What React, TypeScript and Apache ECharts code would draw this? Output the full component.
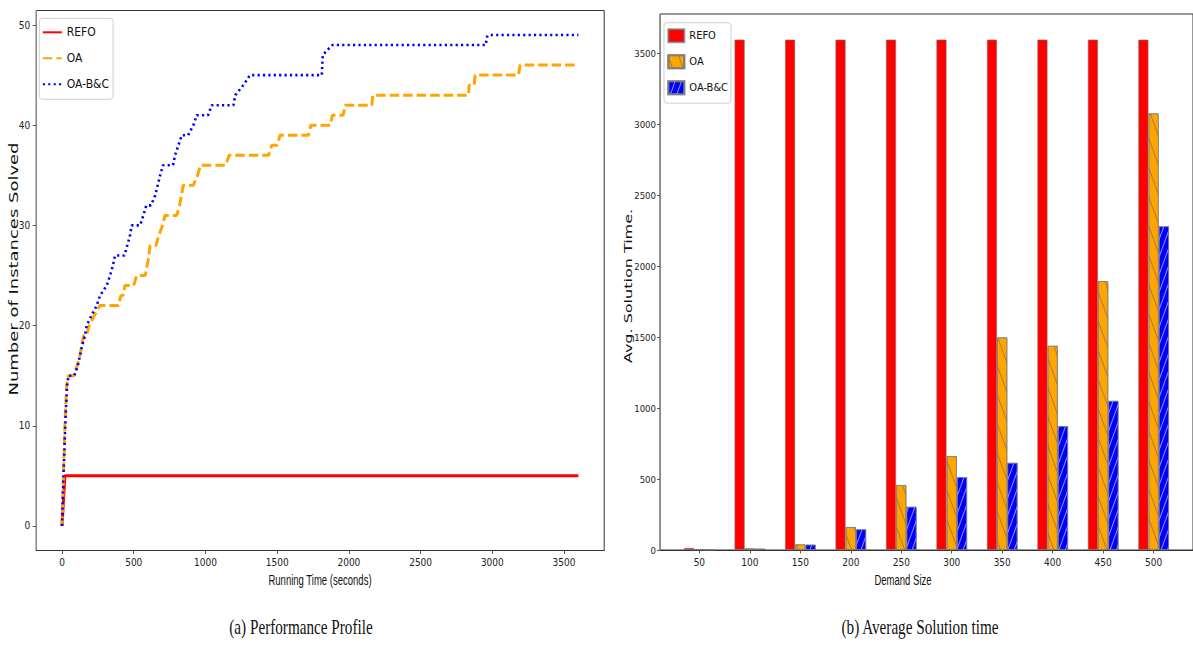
import React, { useEffect, useRef } from 'react';
import * as echarts from 'echarts';

// ---------- data: (a) performance profile ----------
const TIME_TICKS = [0, 500, 1000, 1500, 2000, 2500, 3000, 3500];
const COUNT_TICKS = [0, 10, 20, 30, 40, 50];

const REFO_PROFILE = [[0, 0], [20, 5], [3600, 5]];

const OA_PROFILE = [
  [0, 0], [10, 5], [20, 10], [32, 14], [44, 15], [85, 15], [105, 16], [125, 17],
  [150, 19], [170, 19], [190, 20], [225, 21], [265, 22], [393, 22], [410, 23],
  [425, 23], [439, 24], [500, 24], [520, 25], [580, 25], [600, 26.5], [614, 28],
  [655, 28], [675, 29], [700, 30], [718, 31], [800, 31], [820, 32], [845, 34],
  [915, 34], [945, 35], [965, 36], [1140, 36], [1165, 37], [1440, 37], [1462, 38],
  [1500, 38], [1520, 39], [1718, 39], [1735, 40], [1870, 40], [1885, 41],
  [1960, 41], [1974, 42], [2160, 42], [2167, 43], [2834, 43], [2838, 44],
  [2873, 44], [2880, 45], [3182, 45], [3194, 46], [3600, 46],
];

const OABC_PROFILE = [
  [0, 0], [10, 5], [25, 11], [35, 14], [45, 15], [85, 15], [110, 16], [140, 18],
  [160, 19], [172, 20], [205, 21], [242, 22], [265, 23], [312, 24], [335, 25],
  [355, 26], [370, 27], [435, 27], [455, 28], [474, 29], [486, 30], [544, 30],
  [567, 31], [588, 32], [620, 32], [650, 33], [684, 35], [704, 36], [774, 36],
  [788, 37], [835, 39], [879, 39], [916, 40], [939, 41], [1018, 41], [1044, 42],
  [1195, 42], [1208, 43], [1264, 44], [1311, 45], [1811, 45], [1818, 47],
  [1850, 47.5], [1885, 48], [2955, 48], [2962, 48.8], [2973, 49], [3600, 49],
];

// ---------- data: (b) average solution time ----------
const DEMAND_SIZES = ['50', '100', '150', '200', '250', '300', '350', '400', '450', '500'];
const REFO_TIME = [15, 3600, 3600, 3600, 3600, 3600, 3600, 3600, 3600, 3600];
const OA_TIME = [5, 12, 40, 162, 458, 662, 1499, 1440, 1896, 3079];
const OABC_TIME = [3, 10, 38, 146, 305, 514, 615, 874, 1052, 2283];
const SOLUTION_TICKS = [0, 500, 1000, 1500, 2000, 2500, 3000, 3500];

const TICK_FONT = "'Liberation Sans Narrow', 'DejaVu Sans Condensed', 'Liberation Sans', sans-serif";
const RED = '#ff0000';
const ORANGE = '#ffa500';
const BLUE = '#0000ff';

function axisTitle(text: string, x: number, y: number, rotate: boolean, size: number, family: string, squeeze: number) {
  return {
    type: 'text',
    x,
    y,
    rotation: rotate ? Math.PI / 2 : 0,
    scaleX: rotate ? 1 : squeeze,
    scaleY: rotate ? squeeze : 1,
    style: {
      text,
      fontSize: size,
      fontFamily: family,
      fill: '#111',
      align: 'center',
      verticalAlign: 'middle',
      textAlign: 'center',
      textVerticalAlign: 'middle',
    },
  };
}

const plain = (v: number) => String(Math.round(v));

function leftOption(): any {
  const lineSeries = (name: string, data: number[][], color: string, width: number, dash: any) => ({
    name,
    type: 'line',
    data,
    showSymbol: false,
    symbol: 'none',
    lineStyle: { color, width, type: dash, cap: 'butt' },
    itemStyle: { color },
  });
  return {
    animation: false,
    grid: { left: 36.2, right: 15.8, top: 10.5, bottom: 94.5, show: true, borderColor: '#333', borderWidth: 1 },
    xAxis: {
      type: 'value',
      min: -180,
      max: 3780,
      splitLine: { show: false },
      axisLine: { show: true, onZero: false, lineStyle: { color: '#333' } },
      axisTick: { show: true, length: 3.5, customValues: TIME_TICKS, lineStyle: { color: '#555' } },
      axisLabel: { customValues: TIME_TICKS, formatter: plain, margin: 7, fontSize: 10, fontFamily: TICK_FONT, color: '#222' },
    },
    yAxis: {
      type: 'value',
      min: -2.45,
      max: 51.45,
      splitLine: { show: false },
      axisLine: { show: true, onZero: false, lineStyle: { color: '#888' } },
      axisTick: { show: true, length: 3.5, customValues: COUNT_TICKS, lineStyle: { color: '#555' } },
      axisLabel: { customValues: COUNT_TICKS, formatter: plain, margin: 6, fontSize: 10, fontFamily: TICK_FONT, color: '#222' },
    },
    legend: {
      orient: 'vertical',
      left: 39.3,
      top: 18.3,
      padding: [6, 4, 7, 2.5],
      itemGap: 10,
      itemWidth: 19,
      itemHeight: 12,
      itemStyle: { opacity: 0 },
      backgroundColor: 'rgba(255,255,255,0.85)',
      borderColor: '#d0d0d0',
      borderWidth: 1,
      borderRadius: 3,
      textStyle: { fontSize: 12, lineHeight: 16, fontFamily: TICK_FONT, color: '#111' },
      data: ['REFO', 'OA', 'OA-B&C'],
    },
    series: [
      lineSeries('REFO', REFO_PROFILE, RED, 3, 'solid'),
      lineSeries('OA', OA_PROFILE, ORANGE, 3, [9.5, 4]),
      lineSeries('OA-B&C', OABC_PROFILE, BLUE, 2.6, [2.2, 3.2]),
    ],
    graphic: [
      axisTitle('Number of Instances Solved', 14, 269, true, 18, "'DejaVu Sans', sans-serif", 0.7),
      axisTitle('Running Time (seconds)', 320, 580, false, 14, "'Liberation Sans', sans-serif", 0.68),
      axisTitle('(a) Performance Profile', 301, 627, false, 20, "'Liberation Serif', serif", 0.76),
    ],
  };
}

function rightOption(): any {
  const toPoints = (vals: number[]) => vals.map((v, i) => [i, v]);
  const barSeries = (name: string, vals: number[], color: string, decal: any) => ({
    name,
    type: 'bar',
    data: toPoints(vals),
    barWidth: 10.25,
    barGap: '0%',
    itemStyle: {
      color,
      borderColor: 'rgba(120,120,120,0.75)',
      borderWidth: 0.8,
      decal,
    },
  });
  const idx = DEMAND_SIZES.map((_, i) => i);
  return {
    animation: false,
    grid: { left: 40, right: -8.4, top: 14, bottom: 95, show: true, borderColor: '#333', borderWidth: 1 },
    xAxis: {
      type: 'value',
      min: -0.78,
      max: 9.78,
      splitLine: { show: false },
      axisLine: { show: true, onZero: false, lineStyle: { color: '#333' } },
      axisTick: { show: true, length: 3.5, customValues: idx, lineStyle: { color: '#555' } },
      axisLabel: {
        customValues: idx,
        formatter: (v: number) => DEMAND_SIZES[Math.round(v)] ?? '',
        margin: 7,
        fontSize: 10,
        fontFamily: TICK_FONT,
        color: '#222',
      },
    },
    yAxis: {
      type: 'value',
      min: 0,
      max: 3780,
      splitLine: { show: false },
      axisLine: { show: true, onZero: false, lineStyle: { color: '#888' } },
      axisTick: { show: true, length: 3, customValues: SOLUTION_TICKS, lineStyle: { color: '#555' } },
      axisLabel: { customValues: SOLUTION_TICKS, formatter: plain, margin: 4, fontSize: 9.5, fontFamily: TICK_FONT, color: '#222' },
    },
    legend: {
      orient: 'vertical',
      left: 44,
      top: 22.7,
      padding: [5, 3, 7.5, 3.3],
      itemGap: 10,
      itemWidth: 16,
      itemHeight: 13,
      icon: 'rect',
      backgroundColor: 'rgba(255,255,255,0.85)',
      borderColor: '#d0d0d0',
      borderWidth: 1,
      borderRadius: 3,
      textStyle: { fontSize: 11, lineHeight: 16, fontFamily: TICK_FONT, color: '#111' },
      data: ['REFO', 'OA', 'OA-B&C'],
    },
    series: [
      barSeries('REFO', REFO_TIME, RED, null),
      barSeries('OA', OA_TIME, ORANGE, {
        symbol: 'rect', symbolSize: 1, dashArrayX: [1, 0], dashArrayY: [1, 9],
        rotation: Math.PI * 70 / 180, color: 'rgba(95,95,95,0.55)',
      }),
      barSeries('OA-B&C', OABC_TIME, BLUE, {
        symbol: 'rect', symbolSize: 1, dashArrayX: [1, 0], dashArrayY: [1, 5],
        rotation: -Math.PI * 70 / 180, color: 'rgba(170,170,255,0.85)',
      }),
    ],
    graphic: [
      axisTitle('Avg. Solution Time.', 8, 286, true, 16, "'DejaVu Sans', sans-serif", 0.65),
      axisTitle('Demand Size', 283, 580, false, 14, "'Liberation Sans', sans-serif", 0.68),
      axisTitle('(b) Average Solution time', 300, 627, false, 20, "'Liberation Serif', serif", 0.76),
    ],
  };
}

function Chart({ option, style }: { option: any; style: React.CSSProperties }) {
  const ref = useRef<HTMLDivElement>(null);
  useEffect(() => {
    if (!ref.current) return;
    const chart = echarts.init(ref.current, undefined, { renderer: 'svg' });
    chart.setOption(option);
    return () => chart.dispose();
  }, [option]);
  return <div ref={ref} style={style} />;
}

const LEFT = leftOption();
const RIGHT = rightOption();

export default function App() {
  return (
    <div style={{ position: 'absolute', left: 0, top: 0, width: 1193, height: 645, background: '#fff', overflow: 'hidden' }}>
      <Chart option={LEFT} style={{ position: 'absolute', left: 0, top: 0, width: 620, height: 645 }} />
      <Chart option={RIGHT} style={{ position: 'absolute', left: 620, top: 0, width: 573, height: 645 }} />
    </div>
  );
}
